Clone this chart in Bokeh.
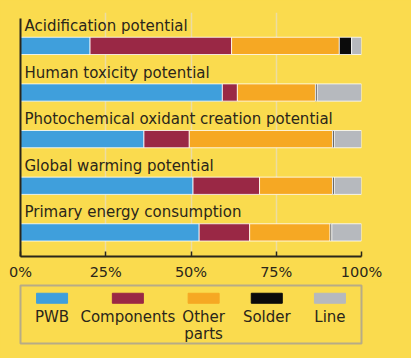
from bokeh.plotting import figure
from bokeh.models import (FactorRange, Range1d, FixedTicker, PrintfTickFormatter,
                          ColumnDataSource, LabelSet)
from bokeh.layouts import column
from bokeh.core.properties import value
from bokeh.embed import file_html
from bokeh.resources import INLINE

# ---- data ----
categories = [
    "Acidification potential",
    "Human toxicity potential",
    "Photochemical oxidant creation potential",
    "Global warming potential",
    "Primary energy consumption",
]
series = ["PWB", "Components", "Other parts", "Solder", "Line"]
pwb = [20.4, 59.2, 36.2, 50.6, 52.4]
components = [41.5, 4.4, 13.3, 19.5, 14.8]
other_parts = [31.6, 22.9, 42.0, 21.4, 23.6]
solder = [3.6, 0.5, 0.5, 0.5, 0.5]
line = [2.9, 13.0, 8.0, 8.0, 8.7]
tick_values = [0, 25, 50, 75, 100]

# legend spacing groups (items in the same group sit closer together)
legend_groups = ["g1", "g2", "g3", "g3", "g3"]

# ---- style ----
colors = ["#3f9fdc", "#9a2845", "#f6a823", "#0b0b0b", "#b6b9be"]
BG = "#fadb4e"
INK = "#2a261a"
FONT = value("DejaVu Sans")

# rows are placed by their index, first category at the top
row = list(range(len(categories)))
src = ColumnDataSource(dict(cat=categories, row=row, PWB=pwb, Components=components,
                            **{"Other parts": other_parts}, Solder=solder, Line=line))

n = len(categories)
p = figure(width=411, height=282,
           x_range=Range1d(0, 100),
           y_range=Range1d(n - 0.483, -0.716),
           output_backend="svg", toolbar_location=None,
           min_border_left=20, min_border_right=50, min_border_top=12, min_border_bottom=25)
p.background_fill_color = BG
p.border_fill_color = BG
p.outline_line_color = None

p.hbar_stack(series, y="row", height=0.37, color=colors, source=src,
             line_color="white", line_width=0.8)

p.add_layout(LabelSet(x=0, y="row", text="cat", source=src, x_offset=4, y_offset=15,
                      text_baseline="alphabetic", text_align="left",
                      text_font=FONT, text_font_size=value("15px"), text_color=INK))

ticker = FixedTicker(ticks=tick_values)
xa = p.xaxis[0]
xa.ticker = ticker
xa.formatter = PrintfTickFormatter(format="%d%%")
xa.major_tick_in = 5
xa.major_tick_out = 0
xa.minor_tick_line_color = None
xa.axis_line_color = INK
xa.axis_line_width = 2
xa.major_tick_line_color = INK
xa.major_tick_line_width = 1.5
xa.major_label_standoff = 7
xa.major_label_text_font = "DejaVu Sans"
xa.major_label_text_font_size = "14.5px"
xa.major_label_text_color = INK

ya = p.yaxis[0]
ya.ticker = FixedTicker(ticks=[])
ya.bounds = (-0.59, n)
ya.axis_line_color = INK
ya.axis_line_width = 2
ya.major_tick_line_color = None
ya.minor_tick_line_color = None
ya.major_tick_out = 0
ya.major_tick_in = 0
ya.major_label_standoff = 0

p.xgrid.ticker = ticker
p.xgrid.grid_line_color = "#ecdca3"
p.xgrid.grid_line_width = 1.5
p.ygrid.grid_line_color = None

# ---- legend panel ----
legend_factors = list(zip(legend_groups, series))
lsrc = ColumnDataSource(dict(x=legend_factors, color=colors,
                             label=[s.replace(" ", "\n") for s in series]))
lf = figure(width=411, height=76,
            x_range=FactorRange(*legend_factors, group_padding=0.2, factor_padding=0,
                                range_padding=0),
            y_range=Range1d(0, 1),
            output_backend="svg", toolbar_location=None,
            min_border_left=19, min_border_right=17, min_border_top=3, min_border_bottom=15)
lf.background_fill_color = BG
lf.border_fill_color = BG
lf.outline_line_color = "#b7ac86"
lf.outline_line_width = 2
lf.axis.visible = False
lf.grid.visible = False
lf.rect(x="x", y=0.78, width=31, height=10, width_units="screen", height_units="screen",
        color="color", source=lsrc)
lf.text(x="x", y=0.62, text="label", source=lsrc, text_align="center", text_baseline="top",
        text_font=FONT, text_font_size="15px", text_color=INK, text_line_height=0.95)

layout = column(p, lf)
html = file_html(layout, INLINE)
html = html.replace("</head>", "<style>body{background:%s}</style></head>" % BG, 1)
open("out.html", "w").write(html)
